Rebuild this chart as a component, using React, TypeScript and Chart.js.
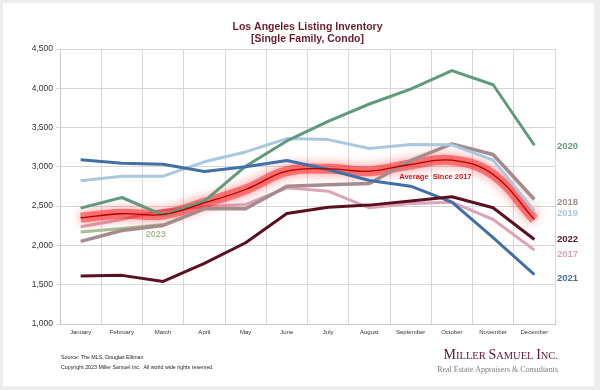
import React, { useEffect, useRef } from "react";
import { Chart, registerables } from "chart.js";

Chart.register(...registerables);

const months = ["January", "February", "March", "April", "May", "June", "July", "August", "September", "October", "November", "December"];

const y2017 = [2237, 2330, 2449, 2492, 2521, 2733, 2691, 2479, 2534, 2551, 2330, 1941];
const y2018 = [2051, 2190, 2254, 2466, 2466, 2754, 2771, 2788, 3080, 3292, 3157, 2585];
const y2019 = [2822, 2881, 2881, 3064, 3190, 3360, 3347, 3233, 3284, 3280, 3085, 2437];
const y2020 = [2475, 2610, 2386, 2564, 3008, 3330, 3580, 3800, 3990, 4225, 4045, 3275];
const y2021 = [3089, 3047, 3034, 2941, 3000, 3080, 2966, 2826, 2754, 2551, 2098, 1627];
const y2022 = [1610, 1619, 1542, 1771, 2034, 2407, 2487, 2513, 2564, 2619, 2479, 2076];
const y2023 = [2170, 2215, 2265, null, null, null, null, null, null, null, null, null];
const average = [2352, 2403, 2394, 2542, 2712, 2945, 2975, 2945, 3030, 3085, 2903, 2330];

const yMin = 1000;
const yMax = 4500;
const yStep = 500;

const titleLines = ["Los Angeles Listing Inventory", "[Single Family, Condo]"];
const yearLabels = ["2020", "2018", "2019", "2022", "2017", "2021"];
const yearLabelValues = [3266, 2554, 2408, 2083, 1892, 1587];
const yearLabelColors = ["#5f9a7d", "#a48c8e", "#a9c8e0", "#5a1020", "#dca4b6", "#426fa6"];
const label2023 = "2023";
const label2023Value = 2134;
const label2023Index = 1.82;
const avgLabel = "Average  Since 2017";
const avgLabelValue = 2871;
const avgLabelIndex = 8.6;
const sourceLines = ["Source: The MLS, Douglas Elliman", "Copyright 2023 Miller Samuel Inc.  All world wide rights reserved."];
const logoName = "Miller Samuel Inc.";
const logoSub = "Real Estate Appraisers & Consultants";

const SANS = "'Liberation Sans', Arial, sans-serif";
const SERIF = "'Liberation Serif', 'Times New Roman', serif";

const bgPlugin = {
  id: "bgCard",
  beforeDraw(chart: any) {
    const ctx = chart.ctx;
    ctx.save();
    ctx.fillStyle = "#ededed";
    ctx.fillRect(0, 0, chart.width, chart.height);
    ctx.fillStyle = "#ffffff";
    ctx.fillRect(3, 3, 591, 383);
    ctx.restore();
  },
};

const glowPlugin = {
  id: "glow",
  beforeDatasetDraw(chart: any, args: any) {
    const ds = chart.data.datasets[args.index];
    if (ds.label === "glow") {
      chart.ctx.save();
      chart.ctx.shadowColor = "rgba(255,0,0,0.85)";
      chart.ctx.shadowBlur = 11;
    }
  },
  afterDatasetDraw(chart: any, args: any) {
    const ds = chart.data.datasets[args.index];
    if (ds.label === "glow") chart.ctx.restore();
  },
};

function drawSmallCaps(ctx: any, text: string, xRight: number, y: number, big: number, small: number) {
  const words = text.split(" ");
  const parts: { t: string; size: number }[] = [];
  words.forEach((w, wi) => {
    parts.push({ t: w[0].toUpperCase(), size: big });
    if (w.length > 1) parts.push({ t: w.slice(1).toUpperCase(), size: small });
    if (wi < words.length - 1) parts.push({ t: " ", size: small });
  });
  let total = 0;
  parts.forEach((p) => {
    ctx.font = `${p.size}px ${SERIF}`;
    total += ctx.measureText(p.t).width;
  });
  let x = xRight - total;
  ctx.textAlign = "left";
  ctx.textBaseline = "alphabetic";
  parts.forEach((p) => {
    ctx.font = `${p.size}px ${SERIF}`;
    ctx.fillText(p.t, x, y);
    x += ctx.measureText(p.t).width;
  });
}

const textPlugin = {
  id: "texts",
  afterDraw(chart: any) {
    const ctx = chart.ctx;
    const area = chart.chartArea;
    const ys = chart.scales.y;
    const xs = chart.scales.x;
    ctx.save();
    ctx.fillStyle = "#6a1c2e";
    ctx.font = `bold 10.5px ${SANS}`;
    ctx.textAlign = "center";
    ctx.textBaseline = "middle";
    const cx = (area.left + area.right) / 2;
    ctx.fillText(titleLines[0], cx, 27);
    ctx.fillText(titleLines[1], cx, 39);

    ctx.font = `bold 9.5px ${SANS}`;
    ctx.textAlign = "left";
    yearLabels.forEach((l, i) => {
      ctx.fillStyle = yearLabelColors[i];
      ctx.fillText(l, area.right + 2, ys.getPixelForValue(yearLabelValues[i]));
    });

    ctx.fillStyle = "#a9bb92";
    ctx.font = `bold 9px ${SANS}`;
    ctx.textAlign = "center";
    ctx.fillText(label2023, xs.getPixelForValue(label2023Index), ys.getPixelForValue(label2023Value));

    ctx.fillStyle = "#d41414";
    ctx.font = `bold 7.5px ${SANS}`;
    ctx.fillText(avgLabel, xs.getPixelForValue(avgLabelIndex), ys.getPixelForValue(avgLabelValue));

    ctx.fillStyle = "#222222";
    ctx.font = `5.3px ${SANS}`;
    ctx.textAlign = "left";
    ctx.fillText(sourceLines[0], 61, 358);
    ctx.fillText(sourceLines[1], 61, 368);

    ctx.fillStyle = "#5c1a2a";
    drawSmallCaps(ctx, logoName, 558, 359, 14, 10.5);
    ctx.fillStyle = "#7a7a7a";
    ctx.font = `8px ${SERIF}`;
    ctx.textAlign = "right";
    ctx.textBaseline = "middle";
    ctx.fillText(logoSub, 558, 370);
    ctx.restore();
  },
};

function line(label: string, data: (number | null)[], color: string, width: number, order: number) {
  return {
    label,
    data,
    borderColor: color,
    backgroundColor: color,
    borderWidth: width,
    pointRadius: 0,
    tension: 0,
    fill: false,
    order,
    borderJoinStyle: "round" as const,
    spanGaps: false,
  };
}

export default function App() {
  const ref = useRef<HTMLCanvasElement | null>(null);
  useEffect(() => {
    if (!ref.current) return;
    const chart = new Chart(ref.current, {
      type: "line",
      data: {
        labels: months,
        datasets: [
          { ...line("avg", average, "#b00000", 1.3, 0), tension: 0.4 },
          line("2022", y2022, "#5a1020", 3, 1),
          line("2021", y2021, "#426fa6", 3, 2),
          line("2020", y2020, "#5f9a7d", 3, 3),
          line("2019", y2019, "#a9c8e0", 3, 4),
          line("2018", y2018, "#a48c8e", 3.5, 5),
          { ...line("glow", average, "rgba(245,30,30,0.5)", 10, 6), tension: 0.4 },
          line("2017", y2017, "#dca4b6", 3, 7),
          line("2023", y2023, "#a9bf94", 3, 8),
        ],
      },
      options: {
        responsive: false,
        animation: false,
        events: [],
        layout: { padding: { top: 49, right: 45, left: 0, bottom: 0 } },
        plugins: { legend: { display: false }, tooltip: { enabled: false }, title: { display: false } },
        scales: {
          x: {
            type: "category",
            offset: true,
            afterFit: (s: any) => {
              s.height = 66;
            },
            grid: { offset: true, color: "#d6d6d6", lineWidth: 1, drawTicks: false },
            border: { color: "#c8c8c8" },
            ticks: { font: { family: SANS, size: 6 }, color: "#333333", maxRotation: 0, autoSkip: false, padding: 5 },
          },
          y: {
            min: yMin,
            max: yMax,
            afterFit: (s: any) => {
              s.width = 60;
            },
            grid: { color: "#d6d6d6", lineWidth: 1, tickLength: 4 },
            border: { color: "#c8c8c8" },
            ticks: {
              stepSize: yStep,
              font: { family: SANS, size: 8.5 },
              color: "#333333",
              padding: 3,
              callback: (v: any) => Number(v).toLocaleString("en-US"),
            },
          },
        },
      },
      plugins: [bgPlugin, glowPlugin, textPlugin],
    });
    return () => chart.destroy();
  }, []);
  return (
    <div style={{ position: "fixed", left: 0, top: 0, width: 600, height: 390 }}>
      <canvas ref={ref} width={600} height={390} style={{ display: "block", width: 600, height: 390 }} />
    </div>
  );
}
